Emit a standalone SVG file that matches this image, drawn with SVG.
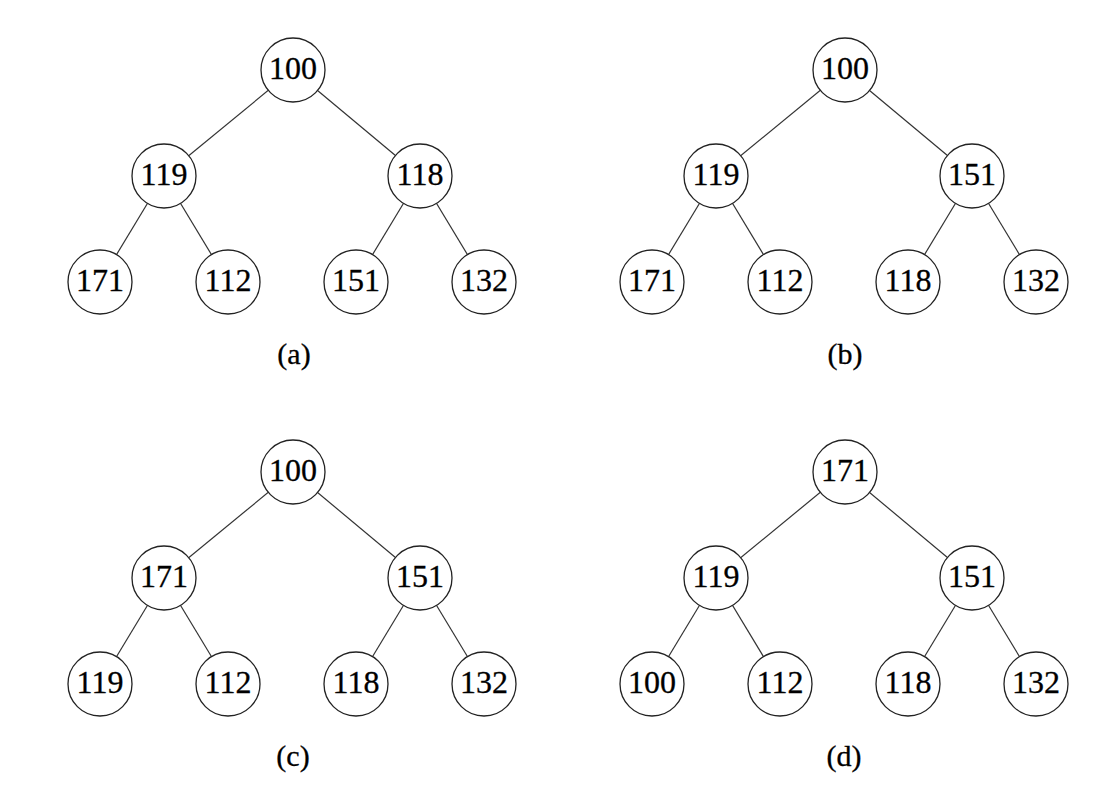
<svg xmlns="http://www.w3.org/2000/svg" width="1120" height="806" viewBox="0 0 1120 806">
<style>
.n circle{fill:#fff;stroke:#222;stroke-width:1.3}
.n text{font-family:"Liberation Serif",serif;font-size:32px;fill:#000;stroke:#000;stroke-width:0.3;text-anchor:middle}
.e line{stroke:#333;stroke-width:1.2}
.lbl{font-family:"Liberation Serif",serif;font-size:30px;fill:#000;stroke:#000;stroke-width:0.3;text-anchor:middle}
</style>
<rect width="1120" height="806" fill="#fff"/>
<g class="e" id="connectors">
<line x1="293" y1="70" x2="164" y2="176"/><line x1="293" y1="70" x2="420" y2="176"/>
<line x1="164" y1="176" x2="100" y2="282"/><line x1="164" y1="176" x2="228" y2="282"/>
<line x1="420" y1="176" x2="356" y2="282"/><line x1="420" y1="176" x2="484" y2="282"/>
<line x1="845" y1="70" x2="716" y2="176"/><line x1="845" y1="70" x2="972" y2="176"/>
<line x1="716" y1="176" x2="652" y2="282"/><line x1="716" y1="176" x2="780" y2="282"/>
<line x1="972" y1="176" x2="908" y2="282"/><line x1="972" y1="176" x2="1036" y2="282"/>
<line x1="293" y1="472" x2="164" y2="578"/><line x1="293" y1="472" x2="420" y2="578"/>
<line x1="164" y1="578" x2="100" y2="684"/><line x1="164" y1="578" x2="228" y2="684"/>
<line x1="420" y1="578" x2="356" y2="684"/><line x1="420" y1="578" x2="484" y2="684"/>
<line x1="845" y1="472" x2="716" y2="578"/><line x1="845" y1="472" x2="972" y2="578"/>
<line x1="716" y1="578" x2="652" y2="684"/><line x1="716" y1="578" x2="780" y2="684"/>
<line x1="972" y1="578" x2="908" y2="684"/><line x1="972" y1="578" x2="1036" y2="684"/>
</g>
<!-- tree a -->
<g class="n" id="a-root"><circle cx="293" cy="70" r="32"/><text x="293" y="79">100</text></g>
<g class="n" id="a-l"><circle cx="164" cy="176" r="32"/><text x="164" y="185">119</text></g>
<g class="n" id="a-r"><circle cx="420" cy="176" r="32"/><text x="420" y="185">118</text></g>
<g class="n" id="a-ll"><circle cx="100" cy="282" r="32"/><text x="100" y="291">171</text></g>
<g class="n" id="a-lr"><circle cx="228" cy="282" r="32"/><text x="228" y="291">112</text></g>
<g class="n" id="a-rl"><circle cx="356" cy="282" r="32"/><text x="356" y="291">151</text></g>
<g class="n" id="a-rr"><circle cx="484" cy="282" r="32"/><text x="484" y="291">132</text></g>
<text class="lbl" x="294" y="364">(a)</text>
<!-- tree b -->
<g class="n" id="b-root"><circle cx="845" cy="70" r="32"/><text x="845" y="79">100</text></g>
<g class="n" id="b-l"><circle cx="716" cy="176" r="32"/><text x="716" y="185">119</text></g>
<g class="n" id="b-r"><circle cx="972" cy="176" r="32"/><text x="972" y="185">151</text></g>
<g class="n" id="b-ll"><circle cx="652" cy="282" r="32"/><text x="652" y="291">171</text></g>
<g class="n" id="b-lr"><circle cx="780" cy="282" r="32"/><text x="780" y="291">112</text></g>
<g class="n" id="b-rl"><circle cx="908" cy="282" r="32"/><text x="908" y="291">118</text></g>
<g class="n" id="b-rr"><circle cx="1036" cy="282" r="32"/><text x="1036" y="291">132</text></g>
<text class="lbl" x="845" y="364">(b)</text>
<!-- tree c -->
<g class="n" id="c-root"><circle cx="293" cy="472" r="32"/><text x="293" y="481">100</text></g>
<g class="n" id="c-l"><circle cx="164" cy="578" r="32"/><text x="164" y="587">171</text></g>
<g class="n" id="c-r"><circle cx="420" cy="578" r="32"/><text x="420" y="587">151</text></g>
<g class="n" id="c-ll"><circle cx="100" cy="684" r="32"/><text x="100" y="693">119</text></g>
<g class="n" id="c-lr"><circle cx="228" cy="684" r="32"/><text x="228" y="693">112</text></g>
<g class="n" id="c-rl"><circle cx="356" cy="684" r="32"/><text x="356" y="693">118</text></g>
<g class="n" id="c-rr"><circle cx="484" cy="684" r="32"/><text x="484" y="693">132</text></g>
<text class="lbl" x="293" y="766">(c)</text>
<!-- tree d -->
<g class="n" id="d-root"><circle cx="845" cy="472" r="32"/><text x="845" y="481">171</text></g>
<g class="n" id="d-l"><circle cx="716" cy="578" r="32"/><text x="716" y="587">119</text></g>
<g class="n" id="d-r"><circle cx="972" cy="578" r="32"/><text x="972" y="587">151</text></g>
<g class="n" id="d-ll"><circle cx="652" cy="684" r="32"/><text x="652" y="693">100</text></g>
<g class="n" id="d-lr"><circle cx="780" cy="684" r="32"/><text x="780" y="693">112</text></g>
<g class="n" id="d-rl"><circle cx="908" cy="684" r="32"/><text x="908" y="693">118</text></g>
<g class="n" id="d-rr"><circle cx="1036" cy="684" r="32"/><text x="1036" y="693">132</text></g>
<text class="lbl" x="844" y="766">(d)</text>
</svg>
